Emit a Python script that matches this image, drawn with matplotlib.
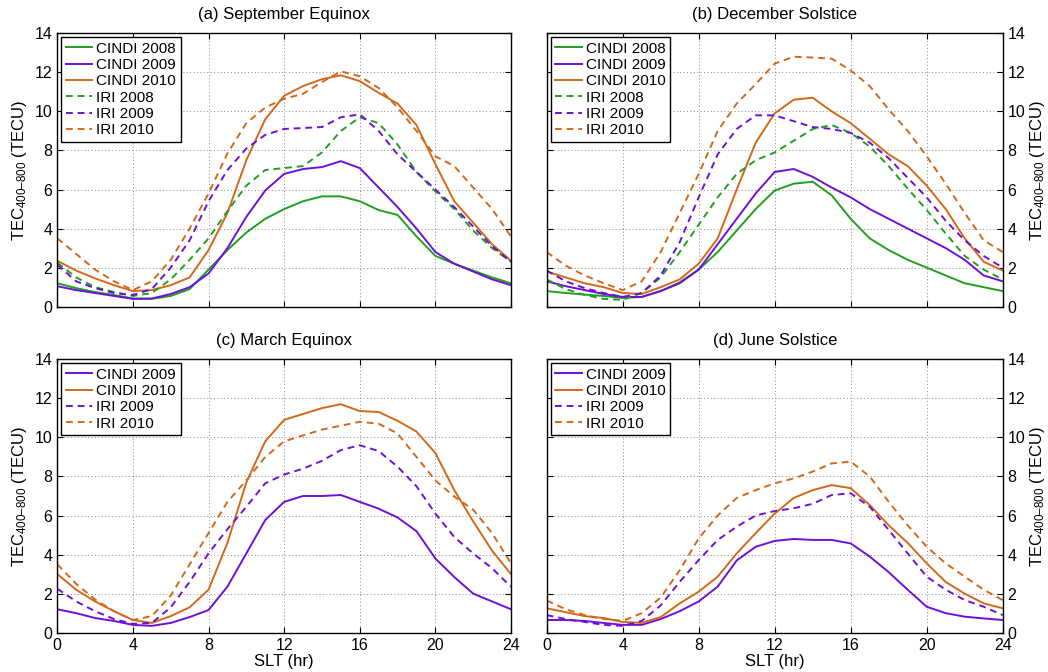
import numpy as np
import matplotlib
matplotlib.use("Agg")
import matplotlib.pyplot as plt

plt.rcParams['font.family'] = ['Liberation Sans', 'DejaVu Sans']
plt.rcParams['mathtext.fontset'] = 'custom'
plt.rcParams['mathtext.rm'] = 'Liberation Sans'
plt.rcParams['mathtext.it'] = 'Liberation Sans'

slt = list(range(0, 25))

# (a) September Equinox
sep_cindi_2008 = [1.2, 0.95, 0.75, 0.6, 0.42, 0.4, 0.55, 0.9, 1.9, 2.9, 3.8, 4.5, 5.0, 5.4, 5.65, 5.65, 5.4, 4.95, 4.7, 3.6, 2.6, 2.2, 1.85, 1.5, 1.2]
sep_cindi_2009 = [1.05, 0.85, 0.7, 0.55, 0.4, 0.42, 0.65, 1.0, 1.7, 3.0, 4.6, 5.95, 6.8, 7.05, 7.15, 7.45, 7.1, 6.1, 5.1, 4.0, 2.8, 2.2, 1.8, 1.4, 1.1]
sep_cindi_2010 = [2.35, 1.85, 1.45, 1.1, 0.8, 0.85, 1.1, 1.5, 2.9, 4.8, 7.5, 9.6, 10.8, 11.3, 11.65, 11.85, 11.55, 10.95, 10.4, 9.3, 7.3, 5.4, 4.3, 3.2, 2.35]
sep_iri_2008 = [2.25, 1.5, 1.0, 0.75, 0.55, 0.7, 1.4, 2.4, 3.5, 4.9, 6.2, 7.0, 7.1, 7.2, 7.9, 9.0, 9.7, 9.4, 8.3, 6.9, 5.9, 5.0, 3.9, 3.0, 2.3]
sep_iri_2009 = [2.15, 1.3, 0.95, 0.7, 0.6, 0.9, 2.0, 3.4, 5.4, 7.0, 8.1, 8.8, 9.1, 9.15, 9.2, 9.7, 9.85, 9.0, 7.8, 6.9, 6.0, 5.1, 4.1, 3.1, 2.3]
sep_iri_2010 = [3.5, 2.7, 1.9, 1.3, 0.85, 1.3, 2.4, 4.0, 5.8, 7.85, 9.4, 10.2, 10.65, 10.9, 11.5, 12.05, 11.8, 11.2, 10.2, 9.0, 7.7, 7.2, 6.1, 5.0, 3.6]

# (b) December Solstice
dec_cindi_2008 = [0.8, 0.7, 0.62, 0.55, 0.45, 0.5, 0.8, 1.25, 1.9, 2.8, 3.9, 5.0, 5.95, 6.3, 6.4, 5.7, 4.5, 3.5, 2.9, 2.4, 2.0, 1.6, 1.2, 1.0, 0.8]
dec_cindi_2009 = [1.3, 1.05, 0.85, 0.65, 0.5, 0.5, 0.8, 1.2, 1.9, 3.2, 4.5, 5.8, 6.9, 7.05, 6.65, 6.1, 5.6, 5.0, 4.5, 4.0, 3.5, 3.0, 2.4, 1.6, 1.3]
dec_cindi_2010 = [1.8, 1.5, 1.2, 1.0, 0.7, 0.65, 1.0, 1.4, 2.2, 3.5, 6.0, 8.4, 9.9, 10.6, 10.7, 10.0, 9.4, 8.6, 7.8, 7.2, 6.2, 5.0, 3.5, 2.3, 1.85]
dec_iri_2008 = [1.4, 0.9, 0.6, 0.4, 0.35, 0.7, 1.5, 2.8, 4.2, 5.6, 6.8, 7.5, 7.9, 8.5, 9.1, 9.3, 8.9, 8.2, 7.2, 6.05, 4.95, 3.75, 2.6, 1.9, 1.4]
dec_iri_2009 = [1.85, 1.3, 0.95, 0.7, 0.5, 0.7, 1.6, 3.3, 5.6, 7.8, 9.1, 9.8, 9.8, 9.5, 9.2, 9.1, 8.9, 8.4, 7.6, 6.6, 5.6, 4.4, 3.4, 2.6, 2.0]
dec_iri_2010 = [2.8, 2.1, 1.6, 1.2, 0.85, 1.3, 2.8, 4.8, 6.8, 9.0, 10.4, 11.4, 12.45, 12.8, 12.76, 12.7, 12.1, 11.3, 10.1, 9.0, 7.7, 6.3, 4.8, 3.4, 2.8]

# (c) March Equinox
mar_cindi_2009 = [1.2, 1.0, 0.75, 0.6, 0.4, 0.35, 0.5, 0.8, 1.16, 2.36, 4.06, 5.77, 6.7, 7.0, 7.0, 7.05, 6.7, 6.35, 5.9, 5.2, 3.8, 2.85, 2.0, 1.6, 1.2]
mar_cindi_2010 = [3.0, 2.2, 1.6, 1.1, 0.65, 0.5, 0.85, 1.3, 2.2, 4.6, 7.7, 9.8, 10.9, 11.2, 11.5, 11.7, 11.35, 11.3, 10.85, 10.3, 9.2, 7.3, 5.7, 4.2, 3.0]
mar_iri_2009 = [2.25, 1.6, 1.1, 0.7, 0.45, 0.5, 1.3, 2.6, 4.06, 5.3, 6.45, 7.65, 8.1, 8.4, 8.8, 9.35, 9.6, 9.3, 8.5, 7.5, 6.1, 4.9, 4.06, 3.3, 2.35]
mar_iri_2010 = [3.5, 2.5, 1.7, 1.1, 0.65, 0.85, 1.9, 3.5, 5.1, 6.7, 7.8, 9.0, 9.8, 10.1, 10.4, 10.6, 10.8, 10.7, 10.2, 9.0, 7.8, 6.97, 6.3, 5.1, 3.55]

# (d) June Solstice
jun_cindi_2009 = [0.65, 0.65, 0.6, 0.5, 0.4, 0.4, 0.7, 1.1, 1.6, 2.36, 3.7, 4.4, 4.7, 4.8, 4.75, 4.75, 4.57, 3.9, 3.1, 2.2, 1.33, 1.0, 0.82, 0.73, 0.65]
jun_cindi_2010 = [1.25, 1.05, 0.85, 0.75, 0.55, 0.5, 0.8, 1.5, 2.1, 2.87, 4.06, 5.1, 6.1, 6.9, 7.3, 7.56, 7.4, 6.54, 5.5, 4.6, 3.55, 2.6, 2.0, 1.5, 1.25]
jun_iri_2009 = [0.9, 0.7, 0.55, 0.4, 0.35, 0.6, 1.4, 2.6, 3.72, 4.75, 5.43, 6.0, 6.23, 6.37, 6.6, 7.05, 7.14, 6.45, 5.26, 4.06, 2.87, 2.2, 1.67, 1.33, 0.9]
jun_iri_2010 = [1.65, 1.2, 0.9, 0.7, 0.6, 1.0, 1.8, 3.2, 4.83, 6.0, 6.9, 7.3, 7.65, 7.9, 8.25, 8.67, 8.76, 8.0, 6.7, 5.5, 4.4, 3.55, 2.87, 2.2, 1.67]

titles = ['(a) September Equinox', '(b) December Solstice', '(c) March Equinox', '(d) June Solstice']
xticks = [0, 4, 8, 12, 16, 20, 24]
yticks = [0, 2, 4, 6, 8, 10, 12, 14]

GREEN = '#1fa01f'
PURPLE = '#6e10d6'
ORANGE = '#d2691a'
DASH = (0, (3.5, 2.5))

panels = [
    [('CINDI 2008', sep_cindi_2008, GREEN, '-'), ('CINDI 2009', sep_cindi_2009, PURPLE, '-'),
     ('CINDI 2010', sep_cindi_2010, ORANGE, '-'), ('IRI 2008', sep_iri_2008, GREEN, DASH),
     ('IRI 2009', sep_iri_2009, PURPLE, DASH), ('IRI 2010', sep_iri_2010, ORANGE, DASH)],
    [('CINDI 2008', dec_cindi_2008, GREEN, '-'), ('CINDI 2009', dec_cindi_2009, PURPLE, '-'),
     ('CINDI 2010', dec_cindi_2010, ORANGE, '-'), ('IRI 2008', dec_iri_2008, GREEN, DASH),
     ('IRI 2009', dec_iri_2009, PURPLE, DASH), ('IRI 2010', dec_iri_2010, ORANGE, DASH)],
    [('CINDI 2009', mar_cindi_2009, PURPLE, '-'), ('CINDI 2010', mar_cindi_2010, ORANGE, '-'),
     ('IRI 2009', mar_iri_2009, PURPLE, DASH), ('IRI 2010', mar_iri_2010, ORANGE, DASH)],
    [('CINDI 2009', jun_cindi_2009, PURPLE, '-'), ('CINDI 2010', jun_cindi_2010, ORANGE, '-'),
     ('IRI 2009', jun_iri_2009, PURPLE, DASH), ('IRI 2010', jun_iri_2010, ORANGE, DASH)],
]

W, H = 1048, 672
fig = plt.figure(figsize=(W / 100, H / 100), dpi=100)
boxes = [(57.3, 33.3, 511, 306.7), (546.7, 33.3, 1002.7, 306.7),
         (57.3, 359.3, 511, 632.7), (546.7, 359.3, 1002.7, 632.7)]
ylabel = 'TEC$_{\\mathregular{400\u2013800}}$ (TECU)'

for i, (box, series) in enumerate(zip(boxes, panels)):
    x0, y0, x1, y1 = box
    ax = fig.add_axes([x0 / W, 1 - y1 / H, (x1 - x0) / W, (y1 - y0) / H])
    for label, vals, col, ls in series:
        ax.plot(slt, vals, color=col, linestyle=ls, lw=1.4, label=label)
    ax.set_xlim(0, 24)
    ax.set_ylim(0, 14)
    ax.set_xticks(xticks)
    ax.set_yticks(yticks)
    ax.grid(True, linestyle=(0, (1, 2.5)), color='#888888', lw=0.7)
    ax.tick_params(direction='in', length=4.5, width=0.8, labelsize=11.5,
                   top=True, right=True, left=True, bottom=True)
    for sp in ax.spines.values():
        sp.set_linewidth(1.0)
    ax.set_title(titles[i], fontsize=12, pad=10)
    if i >= 2:
        ax.set_xlabel('SLT (hr)', fontsize=12, labelpad=1)
    else:
        ax.set_xticklabels([])
    if i % 2 == 1:
        ax.yaxis.tick_right()
        ax.tick_params(left=True, right=True, direction='in')
        ax.yaxis.set_label_position('right')
        ax.set_ylabel(ylabel, fontsize=12, rotation=90, labelpad=2)
    else:
        ax.set_ylabel(ylabel, fontsize=12, labelpad=4)
    leg = ax.legend(loc='upper left', fontsize=11, frameon=True, fancybox=False,
                    handlelength=1.75, handletextpad=0.25, borderpad=0.3,
                    labelspacing=0.15, borderaxespad=0.25)
    leg.get_frame().set_edgecolor('black')
    leg.get_frame().set_linewidth(1.0)
    leg.get_frame().set_alpha(1)

fig.savefig('out.png', dpi=100)
